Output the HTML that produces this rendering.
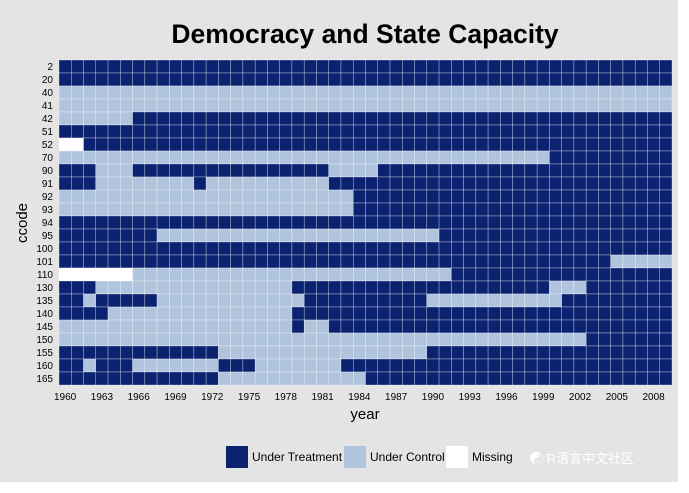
<!DOCTYPE html>
<html><head><meta charset="utf-8"><style>
body{margin:0;background:#fff;}
svg{display:block;font-family:"Liberation Sans","Noto Sans CJK SC",sans-serif;}
</style></head><body>
<svg id="chart" width="689" height="493">
<rect x="0" y="0" width="678" height="482" fill="#e4e4e4"/>
<text x="365" y="43" text-anchor="middle" font-size="26.5" font-weight="bold" fill="#000">Democracy and State Capacity</text>
<g id="cells"></g>
<g id="yticks"></g>
<g id="xticks"></g>
<text x="365" y="419" text-anchor="middle" font-size="15" fill="#000">year</text>
<text x="0" y="0" transform="translate(27,223) rotate(-90)" text-anchor="middle" font-size="15" fill="#000">ccode</text>
<g>
<rect x="226" y="446" width="22" height="22" fill="#0b2270"/>
<text x="252" y="461" font-size="12">Under Treatment</text>
<rect x="344" y="446" width="22" height="22" fill="#b0c4de"/>
<text x="370" y="461" font-size="12">Under Control</text>
<rect x="446" y="446" width="22" height="22" fill="#ffffff"/>
<text x="472" y="461" font-size="12">Missing</text>
</g>
<text x="530" y="463" font-size="13" fill="#fff">&#9775; R语言中文社区</text>
</svg>
<script>
const units=["2","20","40","41","42","51","52","70","90","91","92","93","94","95","100","101","110","130","135","140","145","150","155","160","165"];
const years=[];for(let y=1960;y<=2009;y++)years.push(y);
const xTickLabels=[1960,1963,1966,1969,1972,1975,1978,1981,1984,1987,1990,1993,1996,1999,2002,2005,2008];
// status runs per unit: [startYear, endYear, status]; 1=treatment,0=control,-1=missing
const runs2=[[1960,2009,1]];
const runs20=[[1960,2009,1]];
const runs40=[[1960,2009,0]];
const runs41=[[1960,2009,0]];
const runs42=[[1960,1965,0],[1966,2009,1]];
const runs51=[[1960,2009,1]];
const runs52=[[1960,1961,-1],[1962,2009,1]];
const runs70=[[1960,1999,0],[2000,2009,1]];
const runs90=[[1960,1962,1],[1963,1965,0],[1966,1981,1],[1982,1985,0],[1986,2009,1]];
const runs91=[[1960,1962,1],[1963,1970,0],[1971,1971,1],[1972,1981,0],[1982,2009,1]];
const runs92=[[1960,1983,0],[1984,2009,1]];
const runs93=[[1960,1983,0],[1984,2009,1]];
const runs94=[[1960,2009,1]];
const runs95=[[1960,1967,1],[1968,1990,0],[1991,2009,1]];
const runs100=[[1960,2009,1]];
const runs101=[[1960,2004,1],[2005,2009,0]];
const runs110=[[1960,1965,-1],[1966,1991,0],[1992,2009,1]];
const runs130=[[1960,1962,1],[1963,1978,0],[1979,1999,1],[2000,2002,0],[2003,2009,1]];
const runs135=[[1960,1961,1],[1962,1962,0],[1963,1967,1],[1968,1979,0],[1980,1989,1],[1990,2000,0],[2001,2009,1]];
const runs140=[[1960,1963,1],[1964,1978,0],[1979,2009,1]];
const runs145=[[1960,1978,0],[1979,1979,1],[1980,1981,0],[1982,2009,1]];
const runs150=[[1960,2002,0],[2003,2009,1]];
const runs155=[[1960,1972,1],[1973,1989,0],[1990,2009,1]];
const runs160=[[1960,1961,1],[1962,1962,0],[1963,1965,1],[1966,1972,0],[1973,1975,1],[1976,1982,0],[1983,2009,1]];
const runs165=[[1960,1972,1],[1973,1984,0],[1985,2009,1]];
const allRuns=[runs2,runs20,runs40,runs41,runs42,runs51,runs52,runs70,runs90,runs91,runs92,runs93,runs94,runs95,runs100,runs101,runs110,runs130,runs135,runs140,runs145,runs150,runs155,runs160,runs165];

const NS="http://www.w3.org/2000/svg";
const x0=59,x1=672,y0=60,y1=385;
const cw=(x1-x0)/years.length, ch=(y1-y0)/units.length;
const xScale=yr=>x0+(yr-years[0])*cw;
const yScale=i=>y0+i*ch;
const colors={"1":"#0b2270","0":"#b0c4de","-1":"#ffffff"};
const cells=document.getElementById('cells');
units.forEach((u,i)=>{
  years.forEach(yr=>{
    let st=0;
    allRuns[i].forEach(r=>{if(yr>=r[0]&&yr<=r[1])st=r[2];});
    const r=document.createElementNS(NS,'rect');
    r.setAttribute('x',xScale(yr));r.setAttribute('y',yScale(i));
    r.setAttribute('width',cw);r.setAttribute('height',ch);
    r.setAttribute('fill',colors[st]);
    r.setAttribute('stroke','#ffffff');r.setAttribute('stroke-width','0.5');r.setAttribute('stroke-opacity','0.6');
    
    
    cells.appendChild(r);
  });
  const t=document.createElementNS(NS,'text');
  t.setAttribute('x',53);t.setAttribute('y',yScale(i)+ch/2+3.5);
  t.setAttribute('text-anchor','end');t.setAttribute('font-size','10');
  t.textContent=u;
  
  
  document.getElementById('yticks').appendChild(t);
});
xTickLabels.forEach(yr=>{
  const t=document.createElementNS(NS,'text');
  t.setAttribute('x',xScale(yr)+cw/2);t.setAttribute('y',400);
  t.setAttribute('text-anchor','middle');t.setAttribute('font-size','10');
  t.textContent=yr;
  
  
  document.getElementById('xticks').appendChild(t);
});
</script>
</body></html>
